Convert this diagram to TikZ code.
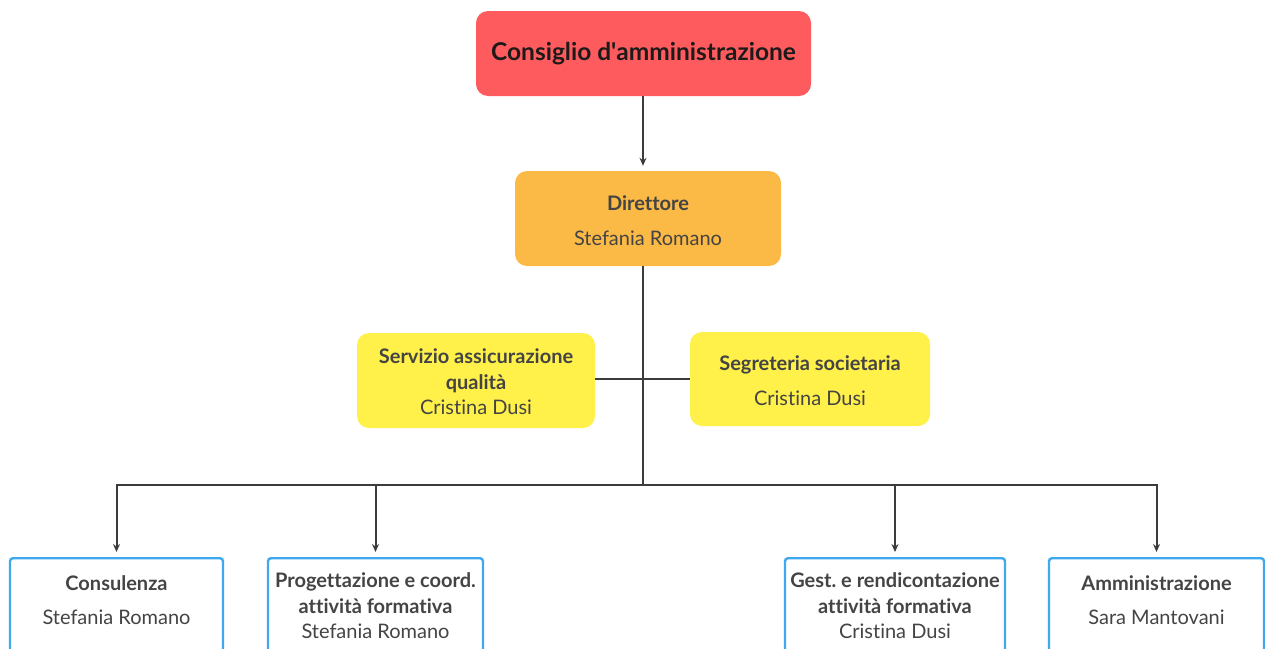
\documentclass[tikz,border=0pt]{standalone}
\usepackage{fontspec}
\setmainfont{Lato}[Ligatures=NoCommon]
\usetikzlibrary{arrows.meta}
\frenchspacing
\definecolor{cred}{HTML}{FD5B5E}
\definecolor{corange}{HTML}{FBB946}
\definecolor{cyellow}{HTML}{FFF04A}
\definecolor{cblue}{HTML}{3FA9F0}
\definecolor{cline}{HTML}{3C3C3C}
\definecolor{ctext}{HTML}{444444}
\definecolor{ctitle}{HTML}{1E1A1A}
\tikzset{
  box/.style={rectangle, rounded corners=12pt, inner sep=0pt, draw=none},
  botbox/.style={rectangle, rounded corners=3pt, draw=cblue, line width=2.4pt, fill=white, minimum width=#1, minimum height=110pt, inner sep=0pt, anchor=north},
  txt/.style={align=center, text=ctext, font=\fontsize{20}{25.5}\selectfont, inner sep=0pt},
  conn/.style={draw=cline, line width=2pt},
  arr/.style={conn, -{Stealth[length=8pt,width=7pt]}, shorten >=5pt}
}
\begin{document}
\begin{tikzpicture}[x=1pt,y=-1pt]
\useasboundingbox[fill=white] (0,0) rectangle (1265,648);
% top
\node[box, fill=cred, minimum width=335pt, minimum height=85pt] (cda) at (643.5,53.5)
  {\textcolor{ctitle}{\fontsize{24.5}{28}\selectfont\bfseries Consiglio d\textquotesingle amministrazione}};
\node[box, fill=corange, minimum width=266pt, minimum height=95pt] (dir) at (648,218.5) {};
\node[txt] (dirT) at (648,221) {\textbf{Direttore}\\[9.5pt]Stefania Romano};
\node[box, fill=cyellow, minimum width=238pt, minimum height=95pt] (serv) at (476,380.5) {};
\node[txt] (servT) at (476,382) {\textbf{Servizio assicurazione}\\\textbf{qualità}\\Cristina Dusi};
\node[box, fill=cyellow, minimum width=240pt, minimum height=94pt] (seg) at (810,379) {};
\node[txt] (segT) at (810,380.5) {\textbf{Segreteria societaria}\\[9.5pt]Cristina Dusi};
% bottom boxes
\node[botbox=213pt] (cons) at (116.5,557) {};
\node[botbox=215pt] (prog) at (375.5,557) {};
\node[botbox=220pt] (gest) at (895,557) {};
\node[botbox=215pt] (amm) at (1156.5,557) {};
\node[txt] (consT) at ([yshift=-43pt]cons.north) {\textbf{Consulenza}\\[8.5pt]Stefania Romano};
\node[txt] (progT) at ([yshift=-49pt]prog.north) {\textbf{Progettazione e coord.}\\\textbf{attività formativa}\\Stefania Romano};
\node[txt] (gestT) at ([yshift=-49pt]gest.north) {\textbf{Gest. e rendicontazione}\\\textbf{attività formativa}\\Cristina Dusi};
\node[txt] (ammT) at ([yshift=-43pt]amm.north) {\textbf{Amministrazione}\\[8.5pt]Sara Mantovani};
% connectors
\coordinate (hub) at (643,485);
\coordinate (busL) at (116,485);
\coordinate (busR) at (1158,485);
\draw[arr] (cda.south -| hub) -- (dir.north -| hub);
\draw[conn] (dir.south -| hub) -- (hub);
\draw[conn] (seg.west) -- (seg.west -| serv.east);
\draw[conn] (busL) -- (busR);
\draw[arr] (cons.north |- hub) -- (cons.north);
\draw[arr] (prog.north |- hub) -- (prog.north);
\draw[arr] (gest.north |- hub) -- (gest.north);
\draw[arr] (amm.north |- hub) -- (amm.north);
\end{tikzpicture}
\end{document}
